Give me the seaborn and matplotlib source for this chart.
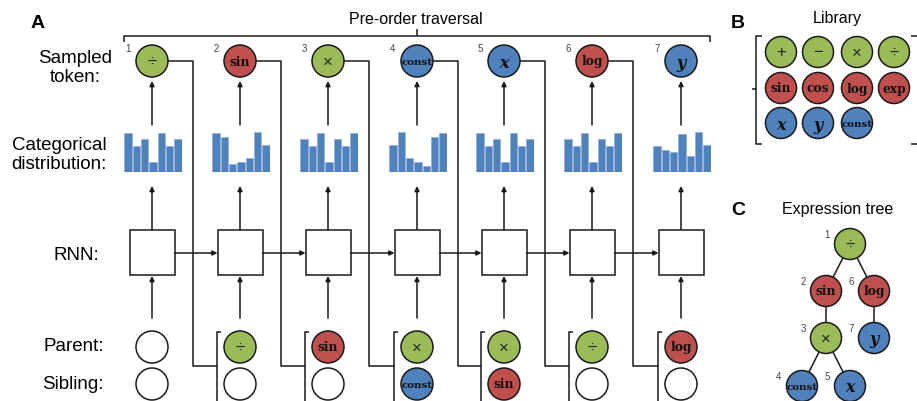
import matplotlib
matplotlib.use('Agg')
import matplotlib.pyplot as plt
from matplotlib.patches import Circle, Rectangle
import seaborn as sns

# data
tokens = ['÷', 'sin', '×', 'const', 'x', 'log', 'y']
parents = [None, '÷', 'sin', '×', '×', '÷', 'log']
siblings = [None, None, None, 'const', 'sin', None, None]
probs = [
    [115, 75, 97, 30, 115, 75, 97],
    [115, 103, 23, 30, 42, 117, 78],
    [97, 75, 115, 30, 97, 75, 115],
    [78, 117, 42, 30, 19, 103, 115],
    [115, 75, 97, 30, 115, 75, 97],
    [97, 75, 115, 30, 97, 75, 115],
    [75, 65, 58, 110, 47, 117, 78],
]
library = [['+', '−', '×', '÷'], ['sin', 'cos', 'log', 'exp'], ['x', 'y', 'const']]
tree_nodes = ['÷', 'sin', '×', 'const', 'x', 'log', 'y']   # pre-order
tree_parent = [None, 0, 1, 2, 2, 0, 5]
tree_pos = [(850, 245), (826, 292), (826, 339), (802, 387), (850, 387), (874, 292), (874, 339)]

GREEN, RED, BLUE = '#9BBB59', '#C0504D', '#4F81BD'
kind = {'+': GREEN, '−': GREEN, '×': GREEN, '÷': GREEN,
        'sin': RED, 'cos': RED, 'log': RED, 'exp': RED,
        'x': BLUE, 'y': BLUE, 'const': BLUE}
LC = '#1a1a1a'
LW = 1.1

sns.set_theme(style='white')
plt.rcParams['font.family'] = ['Liberation Sans', 'DejaVu Sans']
plt.rcParams['text.color'] = 'black'

W, H = 917, 402
fig = plt.figure(figsize=(W / 100, H / 100), dpi=100)
ax = fig.add_axes([0, 0, 1, 1])
ax.set_xlim(0, W)
ax.set_ylim(H, 0)
ax.axis('off')


def node(x, y, tok=None, r=16):
    fc = kind[tok] if tok else 'white'
    ax.add_patch(Circle((x, y), r, fc=fc, ec=LC, lw=LW, zorder=3))
    if tok is None:
        return
    if tok in ('x', 'y'):
        ax.text(x, y + 1, tok, ha='center', va='center', fontsize=11.5, fontweight='bold',
                fontstyle='italic', family='DejaVu Serif', color='#111', zorder=4)
    elif tok == 'const':
        ax.text(x, y + 0.5, tok, ha='center', va='center', fontsize=7.4, fontweight='bold',
                family='DejaVu Serif', color='#111', zorder=4)
    elif tok in ('sin', 'cos', 'log', 'exp'):
        ax.text(x, y, tok, ha='center', va='center', fontsize=8.8, fontweight='bold',
                family='DejaVu Serif', color='#111', zorder=4)
    else:
        ax.text(x, y, tok, ha='center', va='center', fontsize=12, color='#222', zorder=4)


def arrow(x0, y0, x1, y1):
    ax.annotate('', xy=(x1, y1), xytext=(x0, y0),
                arrowprops=dict(arrowstyle='-|>', color=LC, lw=LW, mutation_scale=7,
                                shrinkA=0, shrinkB=0), zorder=2)


def line(xs, ys):
    ax.plot(xs, ys, color=LC, lw=LW, solid_capstyle='butt', zorder=1)


# ---- panel A ----
cols = [152, 240, 328, 417, 504, 592, 681]
ax.text(38, 24, 'A', fontsize=14, fontweight='bold', ha='center', va='center')
ax.text(416, 19, 'Pre-order traversal', fontsize=11.5, ha='center', va='center')
line([124, 124, 710, 710], [43, 37, 37, 43])
line([417, 417], [37, 30])

row_labels = [('Sampled\ntoken:', 75, 68), ('Categorical\ndistribution:', 59, 155),
              ('RNN:', 76, 255), ('Parent:', 74, 347), ('Sibling:', 73, 385)]
for txt, xx, yy in row_labels:
    ax.text(xx, yy, txt, fontsize=13.5, ha='center', va='center', linespacing=1.2,
            multialignment='center')

for i, c in enumerate(cols):
    node(c, 62, tokens[i])
    ax.text(c - 24, 49, str(i + 1), fontsize=7, color='#444', ha='center', va='center')
    arrow(c, 126, c, 82)
    arrow(c, 231, c, 187)
    ax.add_patch(Rectangle((c - 22.5, 231), 45, 45, fc='white', ec=LC, lw=LW, zorder=2))
    arrow(c, 319, c, 277)
    node(c, 348, parents[i])
    node(c, 385, siblings[i])
    if i < len(cols) - 1:
        nx = cols[i + 1]
        arrow(c + 22.5, 254, nx - 22.5, 254)
        fx, bx = c + 41, nx - 23
        line([c + 16, fx, fx, bx], [62, 62, 367, 367])
        line([bx + 4, bx, bx], [333, 333, H + 5])

    # categorical distribution as small seaborn bar chart
    bax = fig.add_axes([(c - 28) / W, 1 - 173 / H, 58 / W, 41 / H])
    sns.barplot(x=list(range(len(probs[i]))), y=probs[i], ax=bax, color=BLUE,
                width=0.88, edgecolor='#8FADD6', linewidth=0.5, saturation=1)
    bax.set_ylim(0, 120)
    bax.axis('off')

# ---- panel B ----
ax.text(738, 24, 'B', fontsize=14, fontweight='bold', ha='center', va='center')
ax.text(837, 19, 'Library', fontsize=11.5, ha='center', va='center')
line([762, 756, 756, 762], [37, 37, 145, 145])
line([752, 756], [90, 90])
line([911, 919, 919, 911], [37, 37, 145, 145])
lib_x = [781, 818, 857, 894]
lib_y = [53, 89, 124]
for r, row in enumerate(library):
    for k, tok in enumerate(row):
        node(lib_x[k], lib_y[r], tok, r=15.5)

# ---- panel C ----
ax.text(738, 211, 'C', fontsize=14, fontweight='bold', ha='center', va='center')
ax.text(838, 210, 'Expression tree', fontsize=11.5, ha='center', va='center')
for i, p in enumerate(tree_parent):
    if p is not None:
        line([tree_pos[p][0], tree_pos[i][0]], [tree_pos[p][1], tree_pos[i][1]])
for i, tok in enumerate(tree_nodes):
    x, y = tree_pos[i]
    node(x, y, tok, r=15.5)
    ax.text(x - 23, y - 10, str(i + 1), fontsize=7, color='#444', ha='center', va='center')

fig.savefig('out.png', dpi=100)
